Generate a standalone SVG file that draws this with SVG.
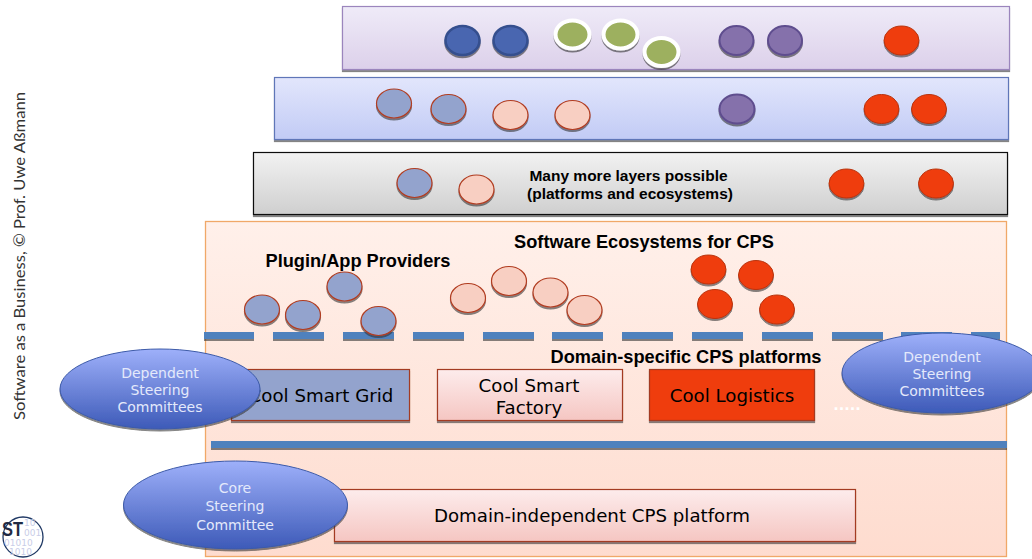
<svg xmlns="http://www.w3.org/2000/svg" width="1032" height="559" viewBox="0 0 1032 559">
<defs>
<linearGradient id="gP" x1="0" y1="0" x2="0" y2="1"><stop offset="0" stop-color="#efebf8"/><stop offset="1" stop-color="#dcd0ea"/></linearGradient>
<linearGradient id="gB" x1="0" y1="0" x2="0" y2="1"><stop offset="0" stop-color="#e2e6fc"/><stop offset="1" stop-color="#c2cbf5"/></linearGradient>
<linearGradient id="gG" x1="0" y1="0" x2="0" y2="1"><stop offset="0" stop-color="#f2f2f2"/><stop offset="1" stop-color="#cfcfcf"/></linearGradient>
<linearGradient id="gO" x1="0" y1="0" x2="0" y2="1"><stop offset="0" stop-color="#fff0ea"/><stop offset="1" stop-color="#fedccf"/></linearGradient>
<linearGradient id="gR" x1="0" y1="0" x2="0" y2="1"><stop offset="0" stop-color="#fdecec"/><stop offset="1" stop-color="#f5c6c2"/></linearGradient>
<linearGradient id="gE" x1="0" y1="0" x2="0" y2="1"><stop offset="0" stop-color="#9eb0fa"/><stop offset="1" stop-color="#3d5ab8"/></linearGradient>
<filter id="sh" x="-20%" y="-20%" width="140%" height="150%"><feDropShadow dx="0" dy="2" stdDeviation="0.7" flood-color="#333" flood-opacity="0.6"/></filter>
</defs>
<style>
.band{stroke-width:1.2;filter:url(#sh)}
.c{filter:url(#sh)}
.db{fill:#4a66b0;stroke:#344f8e;stroke-width:2.5}
.gr{fill:#9db05e;stroke:#fff;stroke-width:4}
.pu{fill:#8571ab;stroke:#5e4d8e;stroke-width:2}
.rd{fill:#ef3c0a;stroke:#b8340f;stroke-width:1}
.lb{fill:#93a3cd;stroke:#b13c20;stroke-width:1.2}
.pk{fill:#f8cfc2;stroke:#b13c20;stroke-width:1.2}
.dash{fill:#4f81bd;filter:url(#sh)}
.h{font-family:"Liberation Sans",Arial,sans-serif;font-weight:bold;fill:#000;text-anchor:middle}
.t{font-family:"DejaVu Sans",sans-serif;fill:#000;text-anchor:middle;font-size:18.2px}
.e{fill:url(#gE);stroke:#3c5aa8;stroke-width:1;filter:url(#sh)}
.w{font-family:"DejaVu Sans",sans-serif;fill:#e4e9fb;text-anchor:middle;font-size:14px}
.bin{font-family:"DejaVu Sans",sans-serif;font-size:9px;fill:#c9cde8}
</style>
<g id="band-purple"><rect class="band" x="342.500" y="6.500" width="667" height="63" fill="url(#gP)" stroke="#9b85bd"/></g>
<g id="band-blue"><rect class="band" x="274.500" y="77.500" width="734" height="62" fill="url(#gB)" stroke="#5f76b8"/></g>
<g id="band-grey"><rect class="band" x="253.500" y="152.500" width="754" height="62" fill="url(#gG)" stroke="#111"/>
<text class="h" font-size="15.500" x="628.500" y="181">Many more layers possible</text>
<text class="h" font-size="15.500" x="630" y="199">(platforms and ecosystems)</text></g>
<g id="band-cps"><rect x="205.500" y="221.500" width="801" height="335" fill="url(#gO)" stroke="#f0a868" stroke-width="1.300"/>
<text class="h" font-size="18.200" x="644" y="248">Software Ecosystems for CPS</text>
<text class="h" font-size="18.200" x="358" y="267">Plugin/App Providers</text>
<text class="h" font-size="18.200" x="686" y="363">Domain-specific CPS platforms</text>
<text x="847" y="410" font-family="DejaVu Sans,sans-serif" font-size="14.500" font-weight="bold" fill="#fff" text-anchor="middle">.....</text></g>
<g id="connectors">
<rect class="dash" x="204" y="332" width="50" height="7"/><rect class="dash" x="273" y="332" width="51" height="7"/><rect class="dash" x="343" y="332" width="51" height="7"/><rect class="dash" x="413" y="332" width="51" height="7"/><rect class="dash" x="483" y="332" width="51" height="7"/><rect class="dash" x="552" y="332" width="51" height="7"/><rect class="dash" x="622" y="332" width="51" height="7"/><rect class="dash" x="692" y="332" width="51" height="7"/><rect class="dash" x="762" y="332" width="51" height="7"/><rect class="dash" x="832" y="332" width="51" height="7"/><rect class="dash" x="901" y="332" width="51" height="7"/><rect class="dash" x="971" y="332" width="29" height="7"/>
<rect class="dash" x="211" y="441" width="796" height="7"/>
</g>
<g id="top-circles" class="c">
<ellipse class="db" cx="462.500" cy="40.500" rx="17" ry="14.500"/><ellipse class="db" cx="510.500" cy="40.500" rx="17" ry="14.500"/>
<ellipse class="gr" cx="572.500" cy="34.500" rx="17" ry="14"/><ellipse class="gr" cx="620.500" cy="34.500" rx="17" ry="14"/><ellipse class="gr" cx="661.500" cy="52" rx="17" ry="14"/>
<ellipse class="pu" cx="736.500" cy="40.500" rx="17" ry="14.500"/><ellipse class="pu" cx="785" cy="40.500" rx="17" ry="14.500"/>
<ellipse class="rd" cx="901.500" cy="40.500" rx="17.500" ry="14.500"/>
</g>
<g id="second-circles" class="c">
<ellipse class="lb" cx="394" cy="103.500" rx="17.500" ry="14.500"/><ellipse class="lb" cx="448.500" cy="109" rx="17.500" ry="14.500"/>
<ellipse class="pk" cx="510.500" cy="115" rx="17.500" ry="14.500"/><ellipse class="pk" cx="572.500" cy="115" rx="17.500" ry="14.500"/>
<ellipse class="pu" cx="737" cy="109" rx="17.500" ry="14.500"/>
<ellipse class="rd" cx="881.500" cy="109" rx="17.500" ry="14.500"/><ellipse class="rd" cx="929" cy="109" rx="17.500" ry="14.500"/>
</g>
<g id="third-circles" class="c">
<ellipse class="lb" cx="414.500" cy="183" rx="17.500" ry="14.500"/><ellipse class="pk" cx="476.500" cy="189.500" rx="17.500" ry="14.500"/>
<ellipse class="rd" cx="846.500" cy="183.500" rx="17.500" ry="14.500"/><ellipse class="rd" cx="936" cy="183.500" rx="17.500" ry="14.500"/>
</g>
<g id="ecosystem-circles" class="c">
<ellipse class="lb" cx="262" cy="309.500" rx="17.500" ry="14.500"/><ellipse class="lb" cx="303" cy="315" rx="17.500" ry="14.500"/><ellipse class="lb" cx="344.500" cy="286.500" rx="17.500" ry="14.500"/><ellipse class="lb" cx="378.500" cy="321" rx="17.500" ry="14.500"/>
<ellipse class="pk" cx="468" cy="298" rx="17.500" ry="14.500"/><ellipse class="pk" cx="509" cy="281" rx="17.500" ry="14.500"/><ellipse class="pk" cx="550.500" cy="292.500" rx="17.500" ry="14.500"/><ellipse class="pk" cx="584.500" cy="310" rx="17.500" ry="14.500"/>
<ellipse class="rd" cx="708.500" cy="269.500" rx="17.500" ry="14.500"/><ellipse class="rd" cx="756" cy="275" rx="17.500" ry="14.500"/><ellipse class="rd" cx="715" cy="304" rx="17.500" ry="14.500"/><ellipse class="rd" cx="777" cy="309.500" rx="17.500" ry="14.500"/>
</g>
<g id="smart-grid"><rect class="band" x="231.500" y="369.500" width="178" height="51" fill="#93a3cd" stroke="#a33a20"/><text class="t" x="321" y="402">Cool Smart Grid</text></g>
<g id="smart-factory"><rect class="band" x="437.500" y="369.500" width="185" height="51" fill="url(#gR)" stroke="#a33a20"/><text class="t" x="529" y="392">Cool Smart</text><text class="t" x="529" y="414">Factory</text></g>
<g id="logistics"><rect class="band" x="649.500" y="369.500" width="165" height="51" fill="#ef3c0a" stroke="#a33a20"/><text class="t" x="732" y="402">Cool Logistics</text></g>
<g id="independent"><rect class="band" x="334.500" y="489.500" width="521" height="52" fill="url(#gR)" stroke="#a33a20"/><text class="t" x="592" y="522">Domain-independent CPS platform</text></g>
<g id="dep-left"><ellipse class="e" cx="160" cy="389" rx="100" ry="40"/><text class="w" x="160" y="378">Dependent</text><text class="w" x="160" y="395">Steering</text><text class="w" x="160" y="412">Committees</text></g>
<g id="dep-right"><ellipse class="e" cx="942" cy="373" rx="100" ry="40"/><text class="w" x="942" y="362">Dependent</text><text class="w" x="942" y="379">Steering</text><text class="w" x="942" y="396">Committees</text></g>
<g id="core"><ellipse class="e" cx="235.500" cy="505" rx="112" ry="44"/><text class="w" x="235" y="493">Core</text><text class="w" x="235" y="511">Steering</text><text class="w" x="235" y="530">Committee</text></g>
<text id="side" transform="translate(25,420) rotate(-90)" font-family="Lato,Open Sans,sans-serif" font-size="15.500" fill="#333" textLength="328" lengthAdjust="spacingAndGlyphs">Software as a Business, © Prof. Uwe Aßmann</text>
<g id="logo">
<circle cx="23" cy="537" r="20" fill="#fff" stroke="#1f3864" stroke-width="1.300"/>
<text class="bin" x="24" y="526">10</text>
<text class="bin" x="24" y="536">001</text>
<text class="bin" x="4" y="546">01010</text>
<text class="bin" x="9" y="555">1010</text>
<text x="2" y="536" font-family="Liberation Sans,sans-serif" font-weight="bold" font-size="21" fill="#1f2a44" textLength="21" lengthAdjust="spacingAndGlyphs">ST</text>
</g>
</svg>
